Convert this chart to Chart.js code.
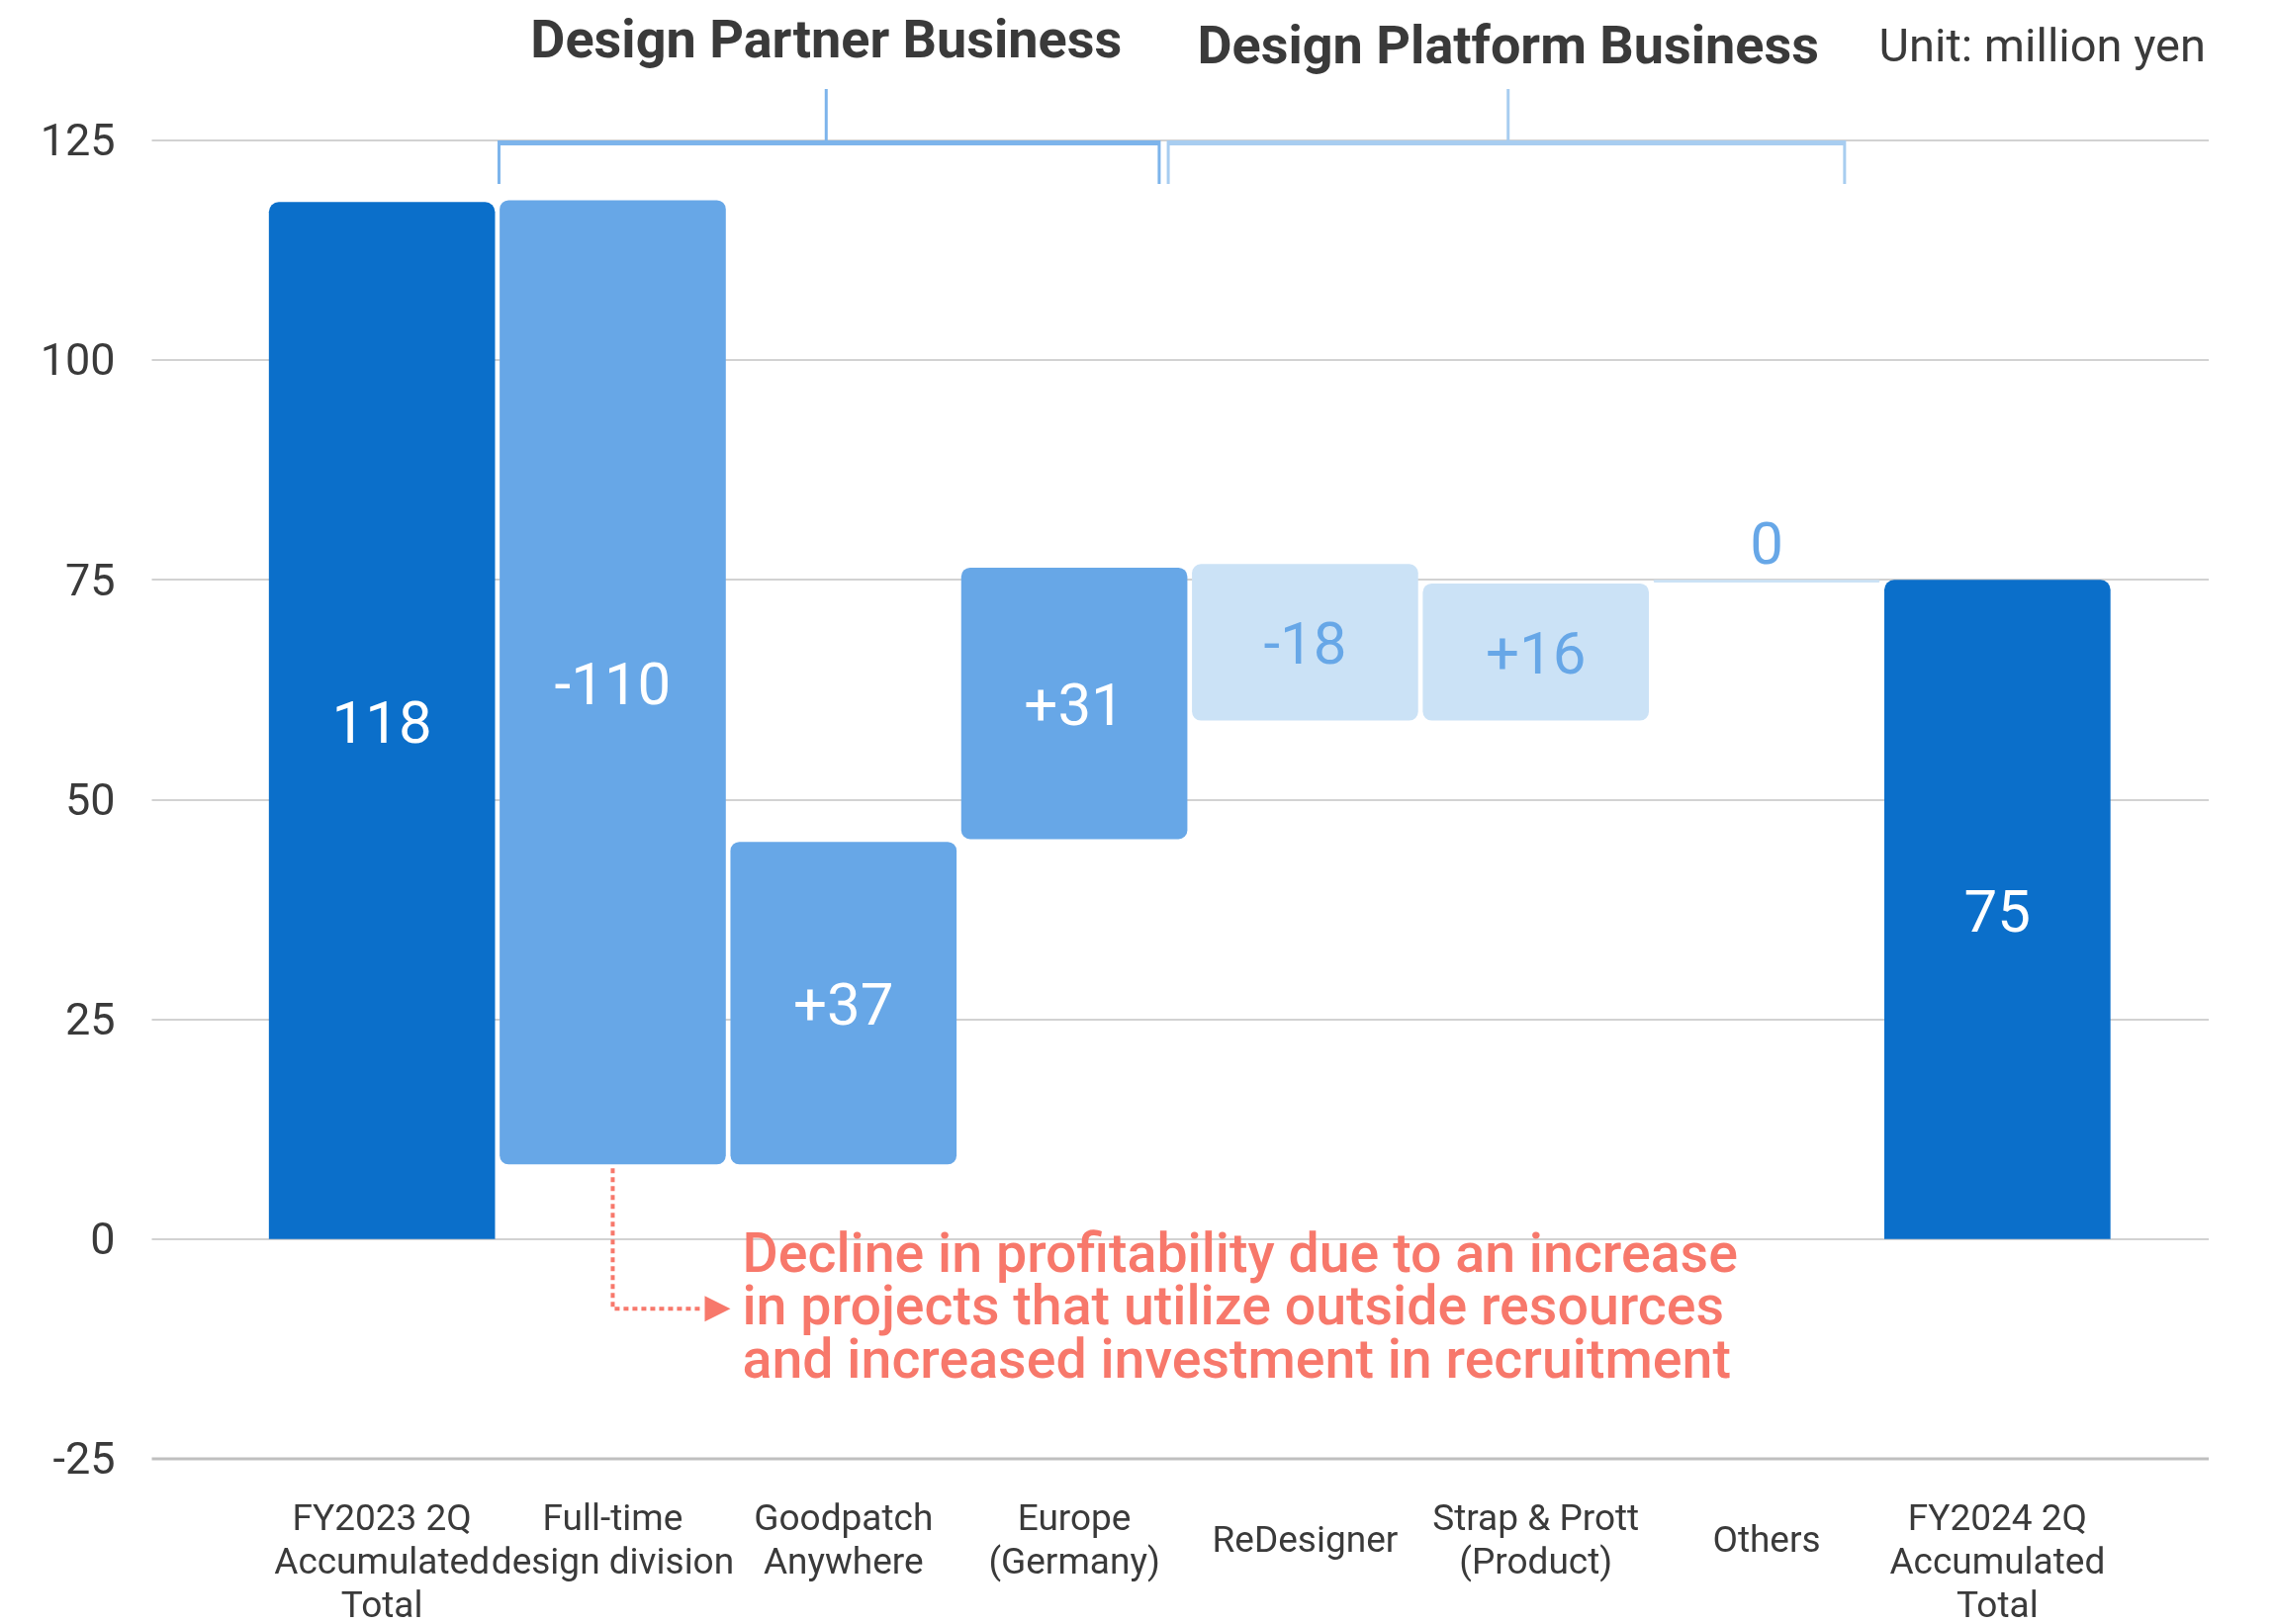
<!DOCTYPE html>
<html>
<head>
<meta charset="utf-8">
<script src="https://cdn.jsdelivr.net/npm/chart.js@4.4.0/dist/chart.umd.min.js"></script>
<style>
  html, body { margin: 0; padding: 0; background: #fff; }
  #wrap { width: 2300px; height: 1642px; }
</style>
</head>
<body>
<div id="wrap"><canvas id="waterfall" width="2300" height="1642"></canvas></div>
<script>
// ===== DATA =====
const categories = [
    ['FY2023 2Q', 'Accumulated', 'Total'],
    ['Full-time', 'design division'],
    ['Goodpatch', 'Anywhere'],
    ['Europe', '(Germany)'],
    'ReDesigner',
    ['Strap & Prott', '(Product)'],
    'Others',
    ['FY2024 2Q', 'Accumulated', 'Total']
];
// floating bar extents (million yen)
const barLow  = [0,   8.5,   8.5,  45.5, 59,   59,   74.7, 0];
const barHigh = [118, 118.2, 45.2, 76.4, 76.8, 74.6, 75,   75];
const valueLabels = ['118', '-110', '+37', '+31', '-18', '+16', '0', '75'];
const barGroup = ['total', 'partner', 'partner', 'partner', 'platform', 'platform', 'platform', 'total'];
const yTicks = [-25, 0, 25, 50, 75, 100, 125];
const annotationLines = [
    'Decline in profitability due to an increase',
    'in projects that utilize outside resources',
    'and increased investment in recruitment'
];

// ===== STYLE =====
const FONT = 'Roboto';
const TEXT = '#3a3a3a';
const fillFor = { total: '#0b6fca', partner: '#67a7e7', platform: '#cbe2f6' };
const labelFor = { total: '#ffffff', partner: '#ffffff', platform: '#67a7e7' };
const SALMON = '#f7786b';

// gridlines run wider than the bar area
const fullGrid = {
    id: 'fullGrid',
    beforeDatasetsDraw(chart) {
        const { ctx, chartArea, scales: { y } } = chart;
        ctx.save();
        yTicks.forEach(v => {
            const py = Math.round(y.getPixelForValue(v));
            ctx.strokeStyle = v === -25 ? '#bfbfbf' : '#d2d2d2';
            ctx.lineWidth = v === -25 ? 3 : 2;
            ctx.beginPath();
            ctx.moveTo(chartArea.left - 116, py);
            ctx.lineTo(chartArea.right + 97, py);
            ctx.stroke();
        });
        ctx.restore();
    }
};

// value text inside / above each bar
const barValues = {
    id: 'barValues',
    afterDatasetsDraw(chart) {
        const { ctx } = chart;
        const meta = chart.getDatasetMeta(0);
        ctx.save();
        ctx.font = `400 60px ${FONT}`;
        ctx.textAlign = 'center';
        ctx.textBaseline = 'middle';
        meta.data.forEach((bar, i) => {
            const top = Math.min(bar.y, bar.base);
            const bottom = Math.max(bar.y, bar.base);
            const cy = (bottom - top) < 20 ? top - 31 : (top + bottom) / 2 + 7;
            ctx.fillStyle = labelFor[barGroup[i]];
            ctx.fillText(valueLabels[i], bar.x, cy);
        });
        ctx.restore();
    }
};

// segment brackets + headers + annotation
const overlay = {
    id: 'overlay',
    afterDraw(chart) {
        const { ctx, scales: { x, y } } = chart;
        const x0 = x.getPixelForValue(0);
        const step = x.getPixelForValue(1) - x0;
        const at = pos => x0 + pos * step;
        const top = y.getPixelForValue(125);

        function bracket(from, to, stem, color) {
            const l = at(from), r = at(to), s = at(stem);
            ctx.fillStyle = color;
            ctx.fillRect(l, top, r - l, 5);
            ctx.fillRect(l - 1, top, 3, 44);
            ctx.fillRect(r - 2, top, 3, 44);
            ctx.fillRect(s - 1.5, top - 52, 3, 52);
        }
        ctx.save();
        bracket(0.505, 3.37, 1.925, '#7db4eb');
        bracket(3.405, 6.34, 4.88, '#a8cdf0');

        ctx.fillStyle = TEXT;
        ctx.textBaseline = 'middle';
        ctx.textAlign = 'center';
        ctx.font = `700 54px ${FONT}`;
        ctx.fillText('Design Partner Business', at(1.925), 44);
        ctx.fillText('Design Platform Business', at(4.88), 50);
        ctx.textAlign = 'right';
        ctx.font = `400 47px ${FONT}`;
        ctx.fillText('Unit: million yen', 2230, 50);

        // annotation with dotted elbow arrow
        const ax = x.getPixelForValue(1);
        const ay0 = y.getPixelForValue(barLow[1]);
        const textX = ax + 131;
        const line1 = y.getPixelForValue(0) + 19;
        const lh = 53.5;
        const ay1 = line1 + lh - 2;
        ctx.strokeStyle = SALMON;
        ctx.lineWidth = 4;
        ctx.setLineDash([5, 4]);
        ctx.beginPath();
        ctx.moveTo(ax, ay0 + 4);
        ctx.lineTo(ax, ay1);
        ctx.lineTo(ax + 92, ay1);
        ctx.stroke();
        ctx.setLineDash([]);
        ctx.fillStyle = SALMON;
        ctx.beginPath();
        ctx.moveTo(ax + 93, ay1 - 13);
        ctx.lineTo(ax + 119, ay1);
        ctx.lineTo(ax + 93, ay1 + 13);
        ctx.closePath();
        ctx.fill();

        ctx.font = `500 55.5px ${FONT}`;
        ctx.textAlign = 'left';
        annotationLines.forEach((t, i) => ctx.fillText(t, textX, line1 + i * lh));
        ctx.restore();
    }
};

const ctx = document.getElementById('waterfall').getContext('2d');
new Chart(ctx, {
    type: 'bar',
    data: {
        labels: categories,
        datasets: [{
            data: barLow.map((lo, i) => [lo, barHigh[i]]),
            backgroundColor: barGroup.map(g => fillFor[g]),
            borderSkipped: false,
            borderRadius: c => (barGroup[c.dataIndex] === 'total')
                ? { topLeft: 10, topRight: 10, bottomLeft: 0, bottomRight: 0 }
                : 9,
            barPercentage: 0.98,
            categoryPercentage: 1
        }]
    },
    options: {
        responsive: false,
        animation: false,
        layout: { padding: { top: 142, right: 164, left: 0, bottom: 0 } },
        plugins: { legend: { display: false }, tooltip: { enabled: false } },
        scales: {
            x: {
                grid: { display: false, drawTicks: false },
                border: { display: false },
                ticks: {
                    color: TEXT,
                    padding: 41,
                    maxRotation: 0,
                    autoSkip: false,
                    font: c => ({
                        family: FONT, size: 37,
                        lineHeight: Array.isArray(categories[c.index]) ? 44 / 37 : 88 / 37
                    })
                },
                afterFit: s => { s.height = 167; }
            },
            y: {
                min: -25,
                max: 125,
                // tick marks hidden, tickLength only pushes the labels left
                grid: { display: false, drawTicks: true, tickLength: 116 },
                border: { display: false },
                ticks: { stepSize: 25, padding: 37, labelOffset: 4, color: TEXT, font: { family: FONT, size: 45 } },
                afterFit: s => { s.width = 269.5; }
            }
        }
    },
    plugins: [fullGrid, barValues, overlay]
});
</script>
</body>
</html>
